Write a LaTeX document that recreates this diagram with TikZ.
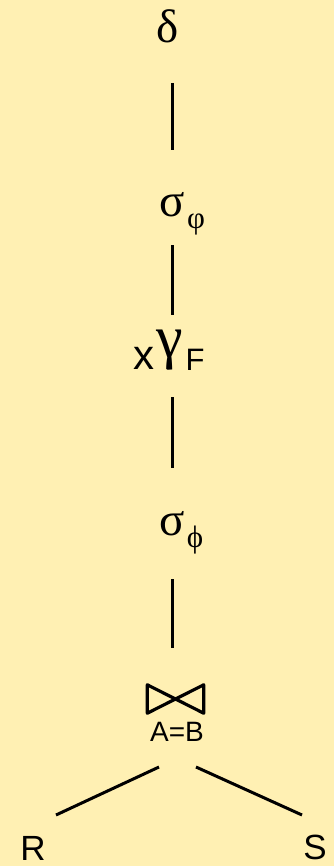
\documentclass[tikz,border=0pt]{standalone}
\usepackage{fontspec}
\setmainfont{Liberation Serif}
\newfontfamily\lsans{Liberation Sans}
\definecolor{bg}{HTML}{FFF0B3}
\begin{document}
\begin{tikzpicture}[x=1pt,y=-1pt,
  greek/.style={inner sep=0pt, font=\fontsize{47}{50}\selectfont},
  sub/.style={inner sep=0pt, font=\fontsize{31}{34}\selectfont},
  lbl/.style={inner sep=0pt, font=\lsans\fontsize{35}{40}\selectfont},
  edge/.style={line width=3pt}]
\fill[bg] (0,0) rectangle (334,866);
\useasboundingbox (0,0) rectangle (334,866);
% operators
\node[greek] (d) at (168,26) {δ};
\node[greek] (s1) at (172,205) {σ};
\node[sub] (p1) at (196,224) {φ};
\node[inner sep=0pt, font=\lsans\fontsize{42}{44}\selectfont] (x) at (144,358) {x};
\node[inner sep=0pt, font=\fontsize{60}{64}\selectfont] (g) at (170,350) {γ};
\node[inner sep=0pt, font=\lsans\fontsize{31}{34}\selectfont] (F) at (195,360) {F};
\node[greek] (s2) at (172,524) {σ};
\node[sub] (p2) at (195,540) {ϕ};
\node[minimum width=56pt, minimum height=28pt, inner sep=0pt] (join) at (175.5,699) {};
\draw[line width=3.2pt, line join=round] (join.north west) -- (join.south west) -- (join.north east) -- (join.south east) -- cycle;
\node[inner sep=0pt, font=\lsans\fontsize{28}{32}\selectfont] (AB) at (177,732) {A=B};
\node[lbl] (R) at (33,848) {R};
\node[lbl] (S) at (315,847) {S};
% connectors
\draw[edge, shorten <=40pt, shorten >=43pt] (s1.north |- d.south) -- (s1.north);
\draw[edge, shorten <=28pt, shorten >=15pt] (s1.south) -- (s1.south |- g.north);
\draw[edge, shorten <=27pt, shorten >=44pt] (s2.north |- g.south) -- (s2.north);
\draw[edge, shorten <=43pt, shorten >=37pt] (s2.south) -- (s2.south |- join.north);
\coordinate (lt) at (159,767);
\coordinate (lb) at (56,815);
\coordinate (rt) at (196,767);
\coordinate (rb) at (302,815);
\draw[edge] (lt) -- (lb);
\draw[edge] (rt) -- (rb);
\end{tikzpicture}
\end{document}
